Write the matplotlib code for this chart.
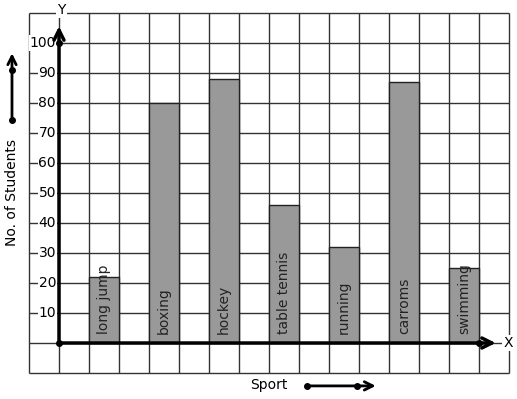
import matplotlib
matplotlib.use("Agg")
from matplotlib import pyplot as plt
import numpy as np

sports = ['long jump', 'boxing', 'hockey', 'table tennis', 'running', 'carroms', 'swimming']
students = [22, 80, 88, 46, 32, 87, 25]
yticks = [10, 20, 30, 40, 50, 60, 70, 80, 90, 100]

fig = plt.figure(figsize=(5.17, 3.99), dpi=100)
ax = fig.add_axes([0, 0, 1, 1])
ax.set_xlim(-59 / 30, (517 - 59) / 30)
ax.set_ylim(-(399 - 343) / 3, 343 / 3)
ax.axis('off')

# graph paper
gc = '#333333'
ax.vlines(np.arange(-1, 16), -10, 110, color=gc, lw=1, zorder=1)
ax.hlines(np.arange(-10, 111, 10), -1, 15, color=gc, lw=1, zorder=1)

# bars, one every other cell
xpos = np.arange(len(sports)) * 2 + 1.5
ax.bar(xpos, students, width=1, color='#999999', edgecolor='#222222', lw=1, zorder=2)
for x, name in zip(xpos, sports):
    ax.text(x, 3, name, rotation=90, ha='center', va='bottom', fontsize=10,
            color='#222222', zorder=3)

# tick labels
for v in yticks:
    ax.text(-0.1, v, str(v), ha='right', va='center', fontsize=10, zorder=3,
            bbox=dict(boxstyle='square,pad=0.05', fc='white', ec='none'))

# axes with arrows
arw = dict(arrowstyle='->', lw=2.5, color='black', mutation_scale=18)
ax.annotate('', xy=(0, 106.5), xytext=(0, 0), arrowprops=arw, zorder=4)
ax.annotate('', xy=(14.65, 0), xytext=(0, 0), arrowprops=arw, zorder=4)
ax.plot([0, 0, 14], [0, 100, 0], 'o', color='black', ms=4, zorder=5)
ax.text(0.07, 111, 'Y', ha='center', va='center', fontsize=10, zorder=5,
        bbox=dict(boxstyle='square,pad=0.1', fc='white', ec='none'))
ax.text(14.97, 0, 'X', ha='center', va='center', fontsize=10, zorder=5,
        bbox=dict(boxstyle='square,pad=0.1', fc='white', ec='none'))

# axis titles with little arrows
ax.text(-1.567, 50, 'No. of Students', rotation=90, ha='center', va='center', fontsize=10)
arw2 = dict(arrowstyle='->', lw=2, color='black', mutation_scale=15)
ax.annotate('', xy=(-1.567, 97.5), xytext=(-1.567, 74.3), arrowprops=arw2)
ax.plot([-1.567, -1.567], [74.3, 91], 'o', color='black', ms=4)

ax.text(7.0, -14.0, 'Sport', ha='center', va='center', fontsize=10)
ax.annotate('', xy=(10.65, -14.3), xytext=(8.27, -14.3), arrowprops=arw2)
ax.plot([8.27, 9.93], [-14.3, -14.3], 'o', color='black', ms=4)

fig.savefig('out.png', dpi=100)
